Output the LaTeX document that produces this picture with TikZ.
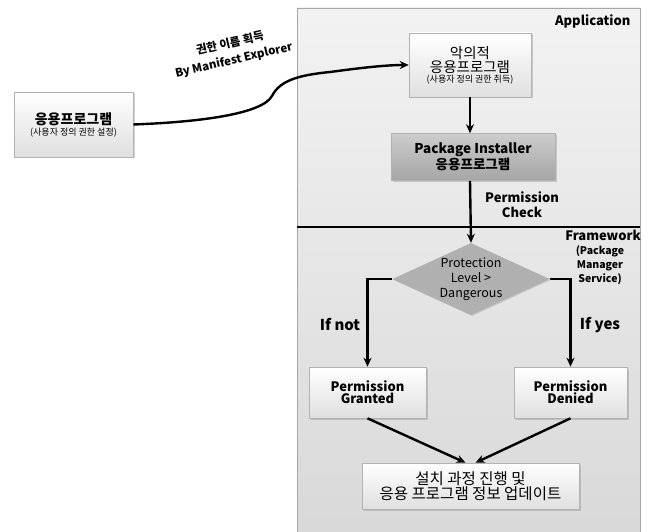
\documentclass[tikz,border=0pt]{standalone}
\usepackage{fontspec}
\setmainfont{Noto Sans CJK KR}
\usetikzlibrary{shapes.geometric,shadows,arrows.meta,calc}

\tikzset{
  box/.style={draw=gray!60, line width=0.6pt, top color=white, bottom color=gray!25,
    align=center, inner sep=0pt, drop shadow={shadow xshift=1.5pt, shadow yshift=-1.5pt, opacity=0.35}},
  darkbox/.style={box, top color=gray!40, bottom color=gray!70},
  decision/.style={draw=none, shape=diamond, fill=gray!62, inner sep=0pt,
    minimum width=157pt, minimum height=72pt,
    drop shadow={shadow xshift=1pt, shadow yshift=-1pt, opacity=0.3}},
  flow/.style={line width=2.4pt, -{Stealth[length=9pt,width=8pt]}},
  lbl/.style={font=\bfseries\fontsize{13}{15}\selectfont, align=center},
}

\begin{document}
\begin{tikzpicture}[x=1pt, y=-1pt]
  \useasboundingbox (0,0) rectangle (648,532);
  % panel for application and framework
  \shade[top color=gray!10, bottom color=gray!30, draw=gray!70, line width=0.8pt]
    (297,8) rectangle (640,533);
  \coordinate (divl) at (297,227);
  \coordinate (divr) at (640,227);
  \draw[line width=2.2pt] (divl) -- (divr);
  \node[lbl, anchor=east] (app) at (634,21) {Application};
  \node[lbl, anchor=north east, inner sep=0pt] (fw) at (641,230) {Framework};
  \node[align=center, font=\bfseries\fontsize{10.5}{14}\selectfont, anchor=north, inner sep=0pt]
    (pms) at (600,245) {(Package\\Manager\\Service)};
  %
  % source application at left
  \node[box, minimum width=119pt, minimum height=65pt] (src) at (73.5,124.5)
    {\bfseries\fontsize{14}{16}\selectfont 응용프로그램\\[-1pt]\mdseries\fontsize{9}{10}\selectfont (사용자 정의 권한 설정)};
  %
  % malicious application
  \node[box, minimum width=122pt, minimum height=64pt] (mal) at (470,65)
    {\fontsize{14.5}{17}\selectfont 악의적\\\fontsize{14.5}{17}\selectfont 응용프로그램\\[-2pt]\fontsize{9}{10}\selectfont (사용자 정의 권한 취득)};
  \node[darkbox, minimum width=164pt, minimum height=47pt] (inst) at (473,157)
    {\bfseries\fontsize{13.5}{17}\selectfont Package Installer\\\bfseries\fontsize{13.5}{17}\selectfont 응용프로그램};
  %
  % decision in framework
  \node[decision] (prot) at (471,279) {};
  \node[align=center, font=\fontsize{12.5}{15}\selectfont, text=black] (protxt) at (prot)
    {Protection\\Level >\\Dangerous};
  \node[box, minimum width=117pt, minimum height=51pt] (grant) at (367.5,392.5)
    {\bfseries\fontsize{13}{17}\selectfont Permission\\\bfseries\fontsize{13}{17}\selectfont Granted};
  \node[box, minimum width=113pt, minimum height=51pt] (deny) at (570.5,392.5)
    {\bfseries\fontsize{13}{17}\selectfont Permission\\\bfseries\fontsize{13}{17}\selectfont Denied};
  \node[box, minimum width=217pt, minimum height=46pt] (upd) at (470.5,486)
    {\fontsize{15.5}{19}\selectfont 설치 과정 진행 및\\\fontsize{15.5}{19}\selectfont 응용 프로그램 정보 업데이트};
  %
  % connectors
  \draw[flow]
    (src.east) .. controls (200,122) and (262,114) .. (272,96)
    .. controls (280,80) and (300,75) .. (330,72)
    .. controls (360,68) and (385,65) .. (mal.west);
  \node[lbl, rotate=13, font=\bfseries\fontsize{11.5}{17}\selectfont] (getname) at (232,52)
    {권한 이름 획득\\By Manifest Explorer};
  \draw[flow] (mal.south) -- (mal.south|-inst.north);
  \draw[flow] (mal.south|-inst.south) -- (prot.north);
  \node[lbl, align=center] (chk) at (522,205) {Permission\\Check};
  \draw[flow] (prot.west) -| (grant.north);
  \draw[flow] (prot.east) -| (deny.north);
  \node[lbl, font=\bfseries\fontsize{15}{17}\selectfont] (ifnot) at (340,325) {If not};
  \node[lbl, font=\bfseries\fontsize{15}{17}\selectfont] (ifyes) at (600,325) {If yes};
  \draw[flow] (grant.south) -- ($(upd.north)+(-5,0)$);
  \draw[flow] (deny.south) -- ($(upd.north)+(5,0)$);
\end{tikzpicture}
\end{document}
